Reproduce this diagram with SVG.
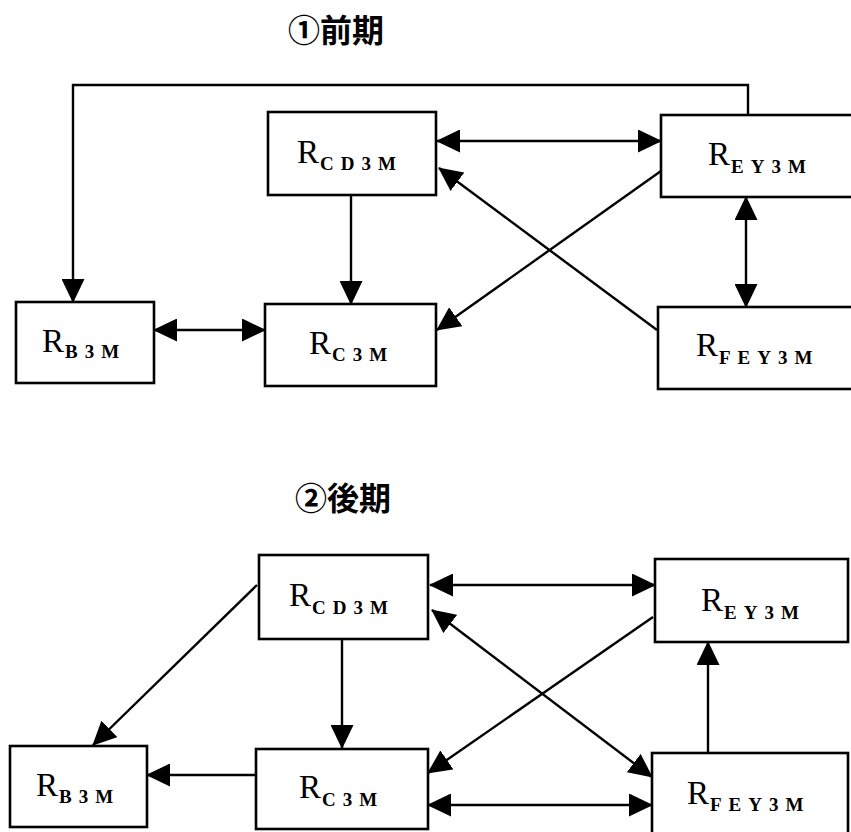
<svg xmlns="http://www.w3.org/2000/svg" width="851" height="832" viewBox="0 0 851 832">
  <style>
    .box { fill: #fff; stroke: #000; stroke-width: 2.6; }
    .lbl { font-family: "Liberation Serif", "DejaVu Serif", serif; font-size: 33px; fill: #000; }
    .sub { font-size: 19px; letter-spacing: 7px; font-weight: bold; }
    .ttl { font-family: "Noto Sans CJK JP", "Noto Sans CJK SC", sans-serif; font-size: 32px; font-weight: bold; fill: #000; }
    .edge { fill: none; stroke: #000; stroke-width: 2.4; }
    .end { marker-end: url(#ah); }
    .both { marker-start: url(#ah); marker-end: url(#ah); }
  </style>
  <defs>
    <marker id="ah" markerUnits="userSpaceOnUse" markerWidth="24" markerHeight="23" viewBox="0 0 24 23" refX="23" refY="11.5" orient="auto-start-reverse">
      <path d="M0,0 L24,11.5 L0,23 z" fill="#000"/>
    </marker>
  </defs>
  <rect width="851" height="832" fill="#fff"/>

  <!-- early period -->
  <text class="ttl" x="288" y="42">①前期</text>

  <g id="connectors-early">
    <polyline class="edge end" points="748,115 748,85 73,85 73,302"/>
    <line class="edge both" x1="437" y1="141" x2="661" y2="141"/>
    <line class="edge end" x1="351" y1="195" x2="351" y2="304"/>
    <line class="edge end" x1="661" y1="171" x2="437" y2="330"/>
    <line class="edge end" x1="657" y1="330" x2="439" y2="168"/>
    <line class="edge both" x1="746" y1="197" x2="746" y2="307"/>
    <line class="edge both" x1="154" y1="330" x2="265" y2="330"/>
  </g>

  <g id="early-RCD3M">
    <rect class="box" x="268" y="112" width="168" height="83"/>
    <text class="lbl" x="297" y="163">R<tspan class="sub" dx="1" dy="7">CD3M</tspan></text>
  </g>
  <g id="early-REY3M">
    <rect class="box" x="661" y="115" width="210" height="82"/>
    <text class="lbl" x="708" y="165">R<tspan class="sub" dx="1" dy="8">EY3M</tspan></text>
  </g>
  <g id="early-RB3M">
    <rect class="box" x="16" y="302" width="138" height="81"/>
    <text class="lbl" x="42" y="352">R<tspan class="sub" dx="1" dy="6">B3M</tspan></text>
  </g>
  <g id="early-RC3M">
    <rect class="box" x="265" y="304" width="171" height="82"/>
    <text class="lbl" x="309" y="354">R<tspan class="sub" dx="1" dy="7">C3M</tspan></text>
  </g>
  <g id="early-RFEY3M">
    <rect class="box" x="658" y="307" width="212" height="82"/>
    <text class="lbl" x="696" y="356">R<tspan class="sub" dx="1" dy="8">FEY3M</tspan></text>
  </g>

  <!-- late period -->
  <text class="ttl" x="295" y="510">②後期</text>

  <g id="connectors-late">
    <line class="edge end" x1="257" y1="585" x2="93" y2="745"/>
    <line class="edge both" x1="430" y1="585" x2="655" y2="585"/>
    <line class="edge end" x1="342" y1="639" x2="342" y2="748"/>
    <line class="edge end" x1="256" y1="775" x2="147" y2="775"/>
    <line class="edge end" x1="653" y1="617" x2="428" y2="773"/>
    <line class="edge both" x1="432" y1="610" x2="652" y2="777"/>
    <line class="edge end" x1="708" y1="753" x2="708" y2="642"/>
    <line class="edge both" x1="428" y1="805" x2="652" y2="805"/>
  </g>

  <g id="late-RCD3M">
    <rect class="box" x="259" y="555" width="169" height="84"/>
    <text class="lbl" x="289" y="606">R<tspan class="sub" dx="1" dy="8">CD3M</tspan></text>
  </g>
  <g id="late-REY3M">
    <rect class="box" x="655" y="559" width="193" height="83"/>
    <text class="lbl" x="701" y="611">R<tspan class="sub" dx="1" dy="8">EY3M</tspan></text>
  </g>
  <g id="late-RB3M">
    <rect class="box" x="10" y="746" width="137" height="81"/>
    <text class="lbl" x="36" y="796">R<tspan class="sub" dx="1" dy="7">B3M</tspan></text>
  </g>
  <g id="late-RC3M">
    <rect class="box" x="256" y="749" width="172" height="80"/>
    <text class="lbl" x="299" y="798">R<tspan class="sub" dx="1" dy="8">C3M</tspan></text>
  </g>
  <g id="late-RFEY3M">
    <rect class="box" x="652" y="753" width="196" height="90"/>
    <text class="lbl" x="687" y="804">R<tspan class="sub" dx="1" dy="7">FEY3M</tspan></text>
  </g>
</svg>
